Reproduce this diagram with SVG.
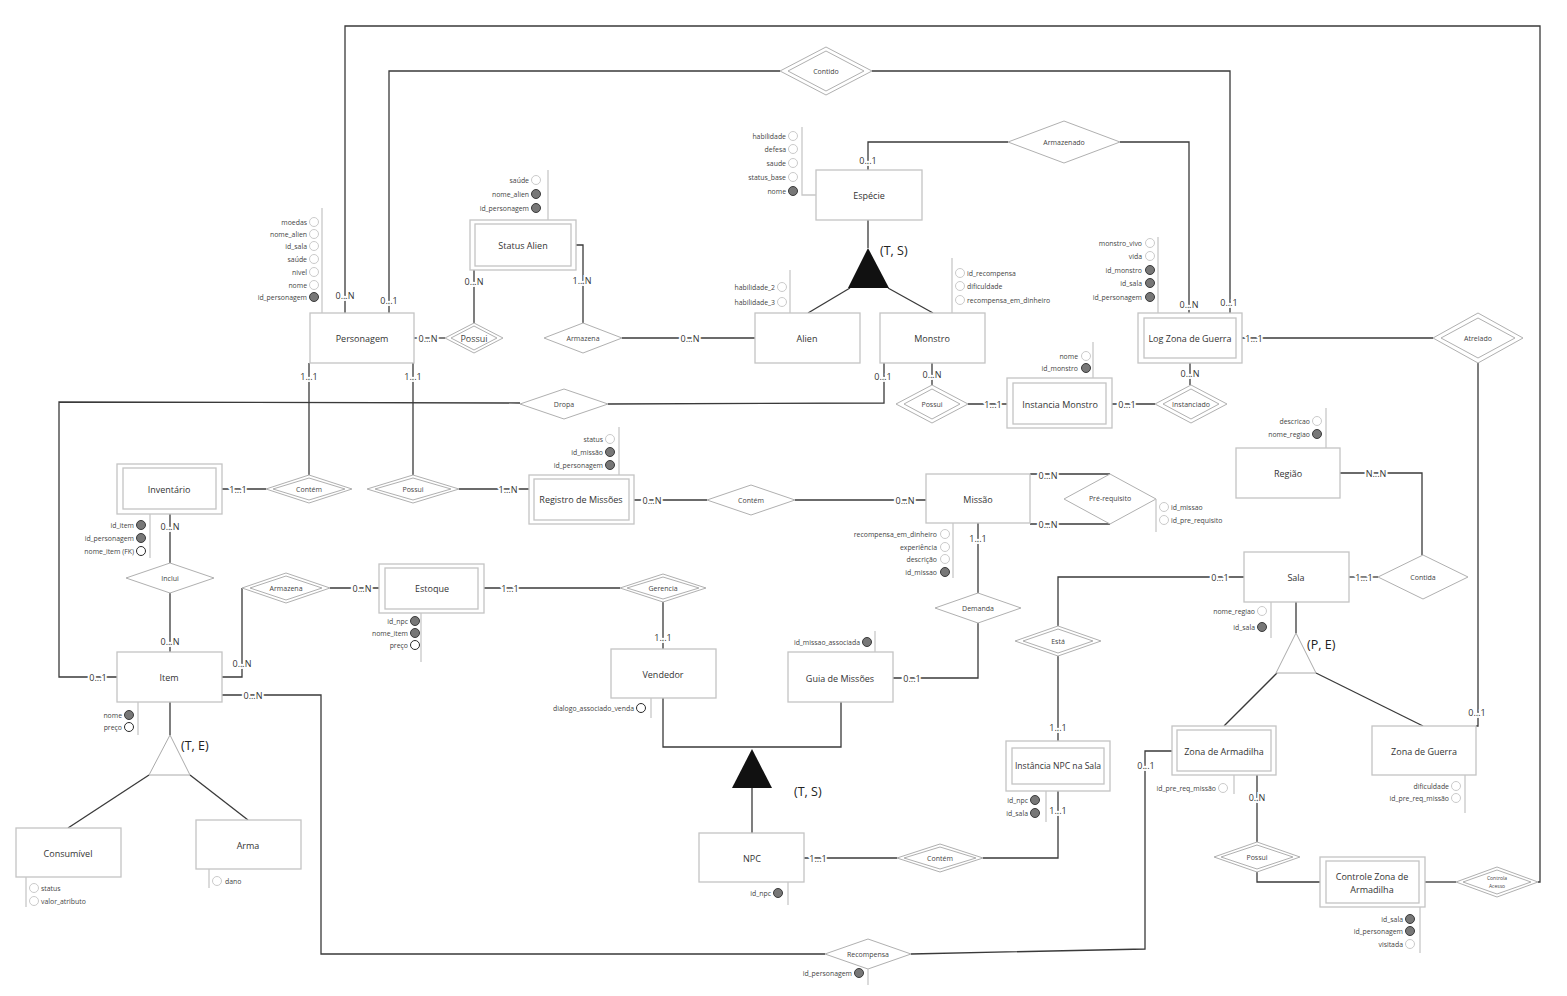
<svg xmlns="http://www.w3.org/2000/svg" width="1567" height="996" viewBox="0 0 1567 996">
<style>
text{font-family:"Open Sans","Liberation Sans",sans-serif;dominant-baseline:central}
.ent{fill:#fff;stroke:#c4c4c4;stroke-width:1.3}
.rel{fill:#fff;stroke:#b0b0b0;stroke-width:1}
.ln{fill:none;stroke:#3a3a3a;stroke-width:1.3}
.al{fill:none;stroke:#c8c8c8;stroke-width:1.3}
.ao{fill:#fff;stroke:#c4c4c4;stroke-width:0.9}
.ak{fill:#777;stroke:#3a3a3a;stroke-width:1}
.ad{fill:#fff;stroke:#2a2a2a;stroke-width:1}
.et{font-size:9px;fill:#333;text-anchor:middle}
.rt{font-size:7px;fill:#444;text-anchor:middle}
.c{font-size:9px;fill:#333;text-anchor:middle;paint-order:stroke;stroke:#fff;stroke-width:4px}
.ae{font-size:6.9px;fill:#444;text-anchor:end}
.as{font-size:6.9px;fill:#444;text-anchor:start}
.gl{font-size:12.5px;fill:#222}
</style>
<rect width="1567" height="996" fill="#fff"/>
<g id="connectors">
<polyline class="ln" points="345,313 345,26 1540,26 1540,882 1538,882"/>
<polyline class="ln" points="389,313 389,71 780,71"/>
<polyline class="ln" points="872,71 1230,71 1230,313"/>
<polyline class="ln" points="1008,142 868,142 868,170"/>
<polyline class="ln" points="1120,142 1189,142 1189,313"/>
<polyline class="ln" points="414,338 445,338"/>
<polyline class="ln" points="474,323 474,270"/>
<polyline class="ln" points="576,245 583,245 583,323"/>
<polyline class="ln" points="622,338 755,338"/>
<polyline class="ln" points="868,220 868,248"/>
<polyline class="ln" points="850,288 808,313"/>
<polyline class="ln" points="888,288 933,313"/>
<polyline class="ln" points="932,363 932,385"/>
<polyline class="ln" points="968,404 1007,404"/>
<polyline class="ln" points="1112,404 1155,404"/>
<polyline class="ln" points="1190,363 1190,385"/>
<polyline class="ln" points="1242,338 1433,338"/>
<polyline class="ln" points="1478,363 1478,726 1476,726"/>
<polyline class="ln" points="884,363 884,403 608,404"/>
<polyline class="ln" points="520,403 59,402 59,677 117,677"/>
<polyline class="ln" points="309,363 309,475"/>
<polyline class="ln" points="413,363 413,475"/>
<polyline class="ln" points="222,489 266,489"/>
<polyline class="ln" points="459,489 529,489"/>
<polyline class="ln" points="634,500 707,500"/>
<polyline class="ln" points="795,500 926,500"/>
<polyline class="ln" points="1030,474 1110,474"/>
<polyline class="ln" points="1030,524 1110,524"/>
<polyline class="ln" points="978,523 978,593"/>
<polyline class="ln" points="978,623 978,678 893,678"/>
<polyline class="ln" points="1340,473 1422,473 1422,555"/>
<polyline class="ln" points="1349,577 1378,577"/>
<polyline class="ln" points="1244,577 1058,577 1058,626"/>
<polyline class="ln" points="1058,656 1058,741"/>
<polyline class="ln" points="1296,602 1296,633"/>
<polyline class="ln" points="1277,673 1224,726"/>
<polyline class="ln" points="1316,673 1423,726"/>
<polyline class="ln" points="1257,775 1257,842"/>
<polyline class="ln" points="1257,872 1257,882 1320,882"/>
<polyline class="ln" points="1425,882 1456,882"/>
<polyline class="ln" points="1172,751 1145,751 1145,949 911,954"/>
<polyline class="ln" points="825,954 321,954 321,695 222,695"/>
<polyline class="ln" points="1058,791 1058,858 983,858"/>
<polyline class="ln" points="804,858 897,858"/>
<polyline class="ln" points="752,833 752,788"/>
<polyline class="ln" points="663,698 663,747 841,747 841,702"/>
<polyline class="ln" points="663,649 663,602"/>
<polyline class="ln" points="484,588 620,588"/>
<polyline class="ln" points="330,588 379,588"/>
<polyline class="ln" points="242,588 242,677 222,677"/>
<polyline class="ln" points="170,514 170,563"/>
<polyline class="ln" points="170,593 170,652"/>
<polyline class="ln" points="170,702 170,735"/>
<polyline class="ln" points="149,775 68,828"/>
<polyline class="ln" points="190,775 248,820"/>
<text class="c" x="345" y="295">0...N</text>
<text class="c" x="389" y="300">0...1</text>
<text class="c" x="1229" y="302">0...1</text>
<text class="c" x="868" y="160">0...1</text>
<text class="c" x="1189" y="304">0...N</text>
<text class="c" x="428" y="338">0...N</text>
<text class="c" x="474" y="281">0...N</text>
<text class="c" x="582" y="280">1...N</text>
<text class="c" x="690" y="338">0...N</text>
<text class="c" x="932" y="374">0...N</text>
<text class="c" x="993" y="404">1...1</text>
<text class="c" x="1127" y="404">0...1</text>
<text class="c" x="1190" y="373">0...N</text>
<text class="c" x="1254" y="338">1...1</text>
<text class="c" x="1477" y="712">0...1</text>
<text class="c" x="883" y="376">0...1</text>
<text class="c" x="98" y="677">0...1</text>
<text class="c" x="309" y="376">1...1</text>
<text class="c" x="413" y="376">1...1</text>
<text class="c" x="238" y="489">1...1</text>
<text class="c" x="508" y="489">1...N</text>
<text class="c" x="652" y="500">0...N</text>
<text class="c" x="905" y="500">0...N</text>
<text class="c" x="1048" y="475">0...N</text>
<text class="c" x="1048" y="524">0...N</text>
<text class="c" x="978" y="538">1...1</text>
<text class="c" x="912" y="678">0...1</text>
<text class="c" x="1376" y="473">N...N</text>
<text class="c" x="1364" y="577">1...1</text>
<text class="c" x="1220" y="577">0...1</text>
<text class="c" x="1058" y="727">1...1</text>
<text class="c" x="1257" y="797">0..N</text>
<text class="c" x="1146" y="765">0...1</text>
<text class="c" x="253" y="695">0...N</text>
<text class="c" x="1058" y="810">1...1</text>
<text class="c" x="818" y="858">1...1</text>
<text class="c" x="663" y="637">1...1</text>
<text class="c" x="510" y="588">1...1</text>
<text class="c" x="362" y="588">0...N</text>
<text class="c" x="242" y="663">0...N</text>
<text class="c" x="170" y="526">0...N</text>
<text class="c" x="170" y="641">0...N</text>
</g>
<g id="gen-especie"><polygon points="868,248 848,288 889,288" fill="#111"/><text class="gl" x="880" y="250">(T, S)</text></g>
<g id="gen-npc"><polygon points="752,749 732,788 772,788" fill="#111"/><text class="gl" x="794" y="791">(T, S)</text></g>
<g id="gen-sala"><polygon points="1296,633 1276,673 1316,673" fill="#fff" stroke="#aaa" stroke-width="1"/><text class="gl" x="1307" y="644">(P, E)</text></g>
<g id="gen-item"><polygon points="170,735 149,775 190,775" fill="#fff" stroke="#aaa" stroke-width="1"/><text class="gl" x="181" y="745">(T, E)</text></g>
<g id="personagem"><rect class="ent" x="310" y="313" width="104" height="50"/><text class="et" x="362" y="338">Personagem</text>
<line class="al" x1="322" y1="208" x2="322" y2="313"/>
<circle class="ao" cx="314" cy="222" r="4.5"/><text class="ae" x="307" y="222">moedas</text>
<circle class="ao" cx="314" cy="234" r="4.5"/><text class="ae" x="307" y="234">nome_alien</text>
<circle class="ao" cx="314" cy="246" r="4.5"/><text class="ae" x="307" y="246">id_sala</text>
<circle class="ao" cx="314" cy="259" r="4.5"/><text class="ae" x="307" y="259">saúde</text>
<circle class="ao" cx="314" cy="272" r="4.5"/><text class="ae" x="307" y="272">nivel</text>
<circle class="ao" cx="314" cy="285" r="4.5"/><text class="ae" x="307" y="285">nome</text>
<circle class="ak" cx="314" cy="297" r="4.5"/><text class="ae" x="307" y="297">id_personagem</text></g>
<g id="status-alien"><rect class="ent" x="470" y="220" width="106" height="50"/><rect class="ent" x="475" y="224" width="96" height="42"/><text class="et" x="523" y="245">Status Alien</text>
<line class="al" x1="548" y1="170" x2="548" y2="220"/>
<circle class="ao" cx="536" cy="180" r="4.5"/><text class="ae" x="529" y="180">saúde</text>
<circle class="ak" cx="536" cy="194" r="4.5"/><text class="ae" x="529" y="194">nome_alien</text>
<circle class="ak" cx="536" cy="208" r="4.5"/><text class="ae" x="529" y="208">id_personagem</text></g>
<g id="especie"><rect class="ent" x="816" y="170" width="106" height="50"/><text class="et" x="869" y="195">Espécie</text>
<polyline class="al" points="802,127 802,195 816,195"/>
<circle class="ao" cx="793" cy="136" r="4.5"/><text class="ae" x="786" y="136">habilidade</text>
<circle class="ao" cx="793" cy="149" r="4.5"/><text class="ae" x="786" y="149">defesa</text>
<circle class="ao" cx="793" cy="163" r="4.5"/><text class="ae" x="786" y="163">saude</text>
<circle class="ao" cx="793" cy="177" r="4.5"/><text class="ae" x="786" y="177">status_base</text>
<circle class="ak" cx="793" cy="191" r="4.5"/><text class="ae" x="786" y="191">nome</text></g>
<g id="alien"><rect class="ent" x="755" y="313" width="105" height="50"/><text class="et" x="807" y="338">Alien</text>
<line class="al" x1="790" y1="270" x2="790" y2="313"/>
<circle class="ao" cx="782" cy="287" r="4.5"/><text class="ae" x="775" y="287">habilidade_2</text>
<circle class="ao" cx="782" cy="302" r="4.5"/><text class="ae" x="775" y="302">habilidade_3</text></g>
<g id="monstro"><rect class="ent" x="880" y="313" width="105" height="50"/><text class="et" x="932" y="338">Monstro</text>
<line class="al" x1="952" y1="258" x2="952" y2="313"/>
<circle class="ao" cx="960" cy="273" r="4.5"/><text class="as" x="967" y="273">id_recompensa</text>
<circle class="ao" cx="960" cy="286" r="4.5"/><text class="as" x="967" y="286">dificuldade</text>
<circle class="ao" cx="960" cy="300" r="4.5"/><text class="as" x="967" y="300">recompensa_em_dinheiro</text></g>
<g id="log-zona-guerra"><rect class="ent" x="1138" y="313" width="104" height="50"/><rect class="ent" x="1144" y="318" width="92" height="40"/><text class="et" x="1190" y="338">Log Zona de Guerra</text>
<line class="al" x1="1158" y1="237" x2="1158" y2="313"/>
<circle class="ao" cx="1150" cy="243" r="4.5"/><text class="ae" x="1142" y="243">monstro_vivo</text>
<circle class="ao" cx="1150" cy="256" r="4.5"/><text class="ae" x="1142" y="256">vida</text>
<circle class="ak" cx="1150" cy="270" r="4.5"/><text class="ae" x="1142" y="270">id_monstro</text>
<circle class="ak" cx="1150" cy="283" r="4.5"/><text class="ae" x="1142" y="283">id_sala</text>
<circle class="ak" cx="1150" cy="297" r="4.5"/><text class="ae" x="1142" y="297">id_personagem</text></g>
<g id="instancia-monstro"><rect class="ent" x="1007" y="378" width="105" height="50"/><rect class="ent" x="1013" y="383" width="93" height="41"/><text class="et" x="1060" y="404">Instancia Monstro</text>
<line class="al" x1="1093" y1="342" x2="1093" y2="378"/>
<circle class="ao" cx="1086" cy="356" r="4.5"/><text class="ae" x="1078" y="356">nome</text>
<circle class="ak" cx="1086" cy="368" r="4.5"/><text class="ae" x="1078" y="368">id_monstro</text></g>
<g id="inventario"><rect class="ent" x="117" y="464" width="105" height="50"/><rect class="ent" x="123" y="468" width="93" height="41"/><text class="et" x="169" y="489">Inventário</text>
<line class="al" x1="150" y1="514" x2="150" y2="558"/>
<circle class="ak" cx="141" cy="525" r="4.5"/><text class="ae" x="134" y="525">id_item</text>
<circle class="ak" cx="141" cy="538" r="4.5"/><text class="ae" x="134" y="538">id_personagem</text>
<circle class="ad" cx="141" cy="551" r="4.5"/><text class="ae" x="134" y="551">nome_item (FK)</text></g>
<g id="registro-missoes"><rect class="ent" x="529" y="475" width="105" height="49"/><rect class="ent" x="534" y="479" width="95" height="41"/><text class="et" x="581" y="499">Registro de Missões</text>
<line class="al" x1="619" y1="427" x2="619" y2="475"/>
<circle class="ao" cx="610" cy="439" r="4.5"/><text class="ae" x="603" y="439">status</text>
<circle class="ak" cx="610" cy="452" r="4.5"/><text class="ae" x="603" y="452">id_missão</text>
<circle class="ak" cx="610" cy="465" r="4.5"/><text class="ae" x="603" y="465">id_personagem</text></g>
<g id="missao"><rect class="ent" x="926" y="474" width="104" height="49"/><text class="et" x="978" y="499">Missão</text>
<line class="al" x1="953" y1="523" x2="953" y2="578"/>
<circle class="ao" cx="945" cy="534" r="4.5"/><text class="ae" x="937" y="534">recompensa_em_dinheiro</text>
<circle class="ao" cx="945" cy="547" r="4.5"/><text class="ae" x="937" y="547">experiência</text>
<circle class="ao" cx="945" cy="559" r="4.5"/><text class="ae" x="937" y="559">descrição</text>
<circle class="ak" cx="945" cy="572" r="4.5"/><text class="ae" x="937" y="572">id_missao</text></g>
<g id="regiao"><rect class="ent" x="1236" y="448" width="104" height="50"/><text class="et" x="1288" y="473">Região</text>
<line class="al" x1="1326" y1="408" x2="1326" y2="448"/>
<circle class="ao" cx="1317" cy="421" r="4.5"/><text class="ae" x="1310" y="421">descricao</text>
<circle class="ak" cx="1317" cy="434" r="4.5"/><text class="ae" x="1310" y="434">nome_regiao</text></g>
<g id="sala"><rect class="ent" x="1244" y="552" width="105" height="50"/><text class="et" x="1296" y="577">Sala</text>
<line class="al" x1="1271" y1="602" x2="1271" y2="638"/>
<circle class="ao" cx="1262" cy="611" r="4.5"/><text class="ae" x="1255" y="611">nome_regiao</text>
<circle class="ak" cx="1262" cy="627" r="4.5"/><text class="ae" x="1255" y="627">id_sala</text></g>
<g id="estoque"><rect class="ent" x="379" y="564" width="105" height="49"/><rect class="ent" x="385" y="568" width="93" height="41"/><text class="et" x="432" y="588">Estoque</text>
<line class="al" x1="421" y1="613" x2="421" y2="662"/>
<circle class="ak" cx="415" cy="621" r="4.5"/><text class="ae" x="408" y="621">id_npc</text>
<circle class="ak" cx="415" cy="633" r="4.5"/><text class="ae" x="408" y="633">nome_item</text>
<circle class="ad" cx="415" cy="645" r="4.5"/><text class="ae" x="408" y="645">preço</text></g>
<g id="item"><rect class="ent" x="117" y="652" width="105" height="50"/><text class="et" x="169" y="677">Item</text>
<line class="al" x1="138" y1="702" x2="138" y2="735"/>
<circle class="ak" cx="129" cy="715" r="4.5"/><text class="ae" x="122" y="715">nome</text>
<circle class="ad" cx="129" cy="727" r="4.5"/><text class="ae" x="122" y="727">preço</text></g>
<g id="consumivel"><rect class="ent" x="16" y="828" width="105" height="49"/><text class="et" x="68" y="853">Consumível</text>
<line class="al" x1="26" y1="877" x2="26" y2="907"/>
<circle class="ao" cx="34" cy="888" r="4.5"/><text class="as" x="41" y="888">status</text>
<circle class="ao" cx="34" cy="901" r="4.5"/><text class="as" x="41" y="901">valor_atributo</text></g>
<g id="arma"><rect class="ent" x="196" y="820" width="105" height="49"/><text class="et" x="248" y="845">Arma</text>
<line class="al" x1="209" y1="869" x2="209" y2="888"/>
<circle class="ao" cx="217" cy="881" r="4.5"/><text class="as" x="225" y="881">dano</text></g>
<g id="vendedor"><rect class="ent" x="611" y="649" width="105" height="49"/><text class="et" x="663" y="674">Vendedor</text>
<line class="al" x1="651" y1="698" x2="651" y2="718"/>
<circle class="ad" cx="641" cy="708" r="4.5"/><text class="ae" x="634" y="708">dialogo_associado_venda</text></g>
<g id="guia-missoes"><rect class="ent" x="788" y="652" width="105" height="50"/><text class="et" x="840" y="678">Guia de Missões</text>
<line class="al" x1="875" y1="631" x2="875" y2="652"/>
<circle class="ak" cx="867" cy="642" r="4.5"/><text class="ae" x="860" y="642">id_missao_associada</text></g>
<g id="npc"><rect class="ent" x="699" y="833" width="105" height="49"/><text class="et" x="752" y="858">NPC</text>
<line class="al" x1="788" y1="882" x2="788" y2="905"/>
<circle class="ak" cx="778" cy="893" r="4.5"/><text class="ae" x="771" y="893">id_npc</text></g>
<g id="instancia-npc-sala"><rect class="ent" x="1006" y="741" width="104" height="50"/><rect class="ent" x="1012" y="748" width="92" height="36"/><text class="et" x="1058" y="766" style="font-size:8.6px">Instância NPC na Sala</text>
<line class="al" x1="1046" y1="791" x2="1046" y2="822"/>
<circle class="ak" cx="1035" cy="800" r="4.5"/><text class="ae" x="1028" y="800">id_npc</text>
<circle class="ak" cx="1035" cy="813" r="4.5"/><text class="ae" x="1028" y="813">id_sala</text></g>
<g id="zona-armadilha"><rect class="ent" x="1172" y="726" width="104" height="49"/><rect class="ent" x="1177" y="730" width="94" height="41"/><text class="et" x="1224" y="751">Zona de Armadilha</text>
<line class="al" x1="1234" y1="775" x2="1234" y2="794"/>
<circle class="ao" cx="1223" cy="788" r="4.5"/><text class="ae" x="1216" y="788">id_pre_req_missão</text></g>
<g id="zona-guerra"><rect class="ent" x="1372" y="726" width="104" height="49"/><text class="et" x="1424" y="751">Zona de Guerra</text>
<line class="al" x1="1465" y1="775" x2="1465" y2="813"/>
<circle class="ao" cx="1456" cy="786" r="4.5"/><text class="ae" x="1449" y="786">dificuldade</text>
<circle class="ao" cx="1456" cy="798" r="4.5"/><text class="ae" x="1449" y="798">id_pre_req_missão</text></g>
<g id="controle-zona-armadilha"><rect class="ent" x="1320" y="857" width="105" height="50"/><rect class="ent" x="1326" y="861" width="93" height="42"/><text class="et" x="1372" y="876">Controle Zona de</text><text class="et" x="1372" y="889">Armadilha</text>
<line class="al" x1="1420" y1="907" x2="1420" y2="953"/>
<circle class="ak" cx="1410" cy="919" r="4.5"/><text class="ae" x="1403" y="919">id_sala</text>
<circle class="ak" cx="1410" cy="931" r="4.5"/><text class="ae" x="1403" y="931">id_personagem</text>
<circle class="ao" cx="1410" cy="944" r="4.5"/><text class="ae" x="1403" y="944">visitada</text></g>
<g id="rel-contido"><polygon class="rel" points="780,71 826,47 872,71 826,95"/><polygon class="rel" points="788,71 826,51 864,71 826,91"/><text class="rt" x="826" y="71">Contido</text></g>
<g id="rel-armazenado"><polygon class="rel" points="1008,142 1064,121 1120,142 1064,163"/><text class="rt" x="1064" y="142">Armazenado</text></g>
<g id="rel-possui-alien"><polygon class="rel" points="445,338 474,323 503,338 474,353"/><polygon class="rel" points="451,338 474,326 497,338 474,350"/><text class="rt" x="474" y="338" style="font-size:9px">Possui</text></g>
<g id="rel-armazena-alien"><polygon class="rel" points="544,338 583,323 622,338 583,353"/><text class="rt" x="583" y="338">Armazena</text></g>
<g id="rel-atrelado"><polygon class="rel" points="1433,338 1478,313 1523,338 1478,363"/><polygon class="rel" points="1441,338 1478,318 1515,338 1478,358"/><text class="rt" x="1478" y="338">Atrelado</text></g>
<g id="rel-possui-monstro"><polygon class="rel" points="896,404 932,385 968,404 932,423"/><polygon class="rel" points="904,404 932,389 960,404 932,419"/><text class="rt" x="932" y="404">Possui</text></g>
<g id="rel-instanciado"><polygon class="rel" points="1155,404 1191,385 1227,404 1191,423"/><polygon class="rel" points="1163,404 1191,389 1219,404 1191,419"/><text class="rt" x="1191" y="404">Instanciado</text></g>
<g id="rel-dropa"><polygon class="rel" points="520,404 564,389 608,404 564,419"/><text class="rt" x="564" y="404">Dropa</text></g>
<g id="rel-contem-inv"><polygon class="rel" points="266,489 309,475 352,489 309,503"/><polygon class="rel" points="273,489 309,478 345,489 309,500"/><text class="rt" x="309" y="489">Contém</text></g>
<g id="rel-possui-reg"><polygon class="rel" points="367,489 413,475 459,489 413,503"/><polygon class="rel" points="375,489 413,478 451,489 413,500"/><text class="rt" x="413" y="489">Possui</text></g>
<g id="rel-contem-missao"><polygon class="rel" points="707,500 751,485 795,500 751,515"/><text class="rt" x="751" y="500">Contém</text></g>
<g id="rel-pre-requisito"><polygon class="rel" points="1064,499 1110,474 1156,499 1110,524"/><text class="rt" x="1110" y="498">Pré-requisito</text>
<line class="al" x1="1156" y1="499" x2="1156" y2="532"/>
<circle class="ao" cx="1164" cy="507" r="4.5"/><text class="as" x="1171" y="507">id_missao</text>
<circle class="ao" cx="1164" cy="520" r="4.5"/><text class="as" x="1171" y="520">id_pre_requisito</text></g>
<g id="rel-inclui"><polygon class="rel" points="126,578 170,563 214,578 170,593"/><text class="rt" x="170" y="578">Inclui</text></g>
<g id="rel-armazena-estoque"><polygon class="rel" points="242,588 286,573 330,588 286,603"/><polygon class="rel" points="250,588 286,576 322,588 286,600"/><text class="rt" x="286" y="588">Armazena</text></g>
<g id="rel-gerencia"><polygon class="rel" points="620,588 663,574 706,588 663,602"/><polygon class="rel" points="627,588 663,577 699,588 663,599"/><text class="rt" x="663" y="588">Gerencia</text></g>
<g id="rel-demanda"><polygon class="rel" points="935,608 978,593 1021,608 978,623"/><text class="rt" x="978" y="608">Demanda</text></g>
<g id="rel-contida"><polygon class="rel" points="1378,577 1423,555 1468,577 1423,599"/><text class="rt" x="1423" y="577">Contida</text></g>
<g id="rel-esta"><polygon class="rel" points="1015,641 1058,626 1101,641 1058,656"/><polygon class="rel" points="1023,641 1058,629 1093,641 1058,653"/><text class="rt" x="1058" y="641">Está</text></g>
<g id="rel-recompensa"><polygon class="rel" points="825,954 868,939 911,954 868,969"/><text class="rt" x="868" y="954">Recompensa</text>
<line class="al" x1="868" y1="969" x2="868" y2="985"/>
<circle class="ak" cx="859" cy="973" r="4.5"/><text class="ae" x="852" y="973">id_personagem</text></g>
<g id="rel-contem-npc"><polygon class="rel" points="897,858 940,844 983,858 940,872"/><polygon class="rel" points="904,858 940,847 976,858 940,869"/><text class="rt" x="940" y="858">Contém</text></g>
<g id="rel-possui-zona"><polygon class="rel" points="1214,857 1257,842 1300,857 1257,872"/><polygon class="rel" points="1221,857 1257,845 1293,857 1257,869"/><text class="rt" x="1257" y="857">Possui</text></g>
<g id="rel-controla-acesso"><polygon class="rel" points="1456,882 1497,867 1538,882 1497,897"/><polygon class="rel" points="1463,882 1497,870 1531,882 1497,894"/><text class="rt" x="1497" y="878" style="font-size:5px">Controla</text><text class="rt" x="1497" y="886" style="font-size:5px">Acesso</text></g>
</svg>
